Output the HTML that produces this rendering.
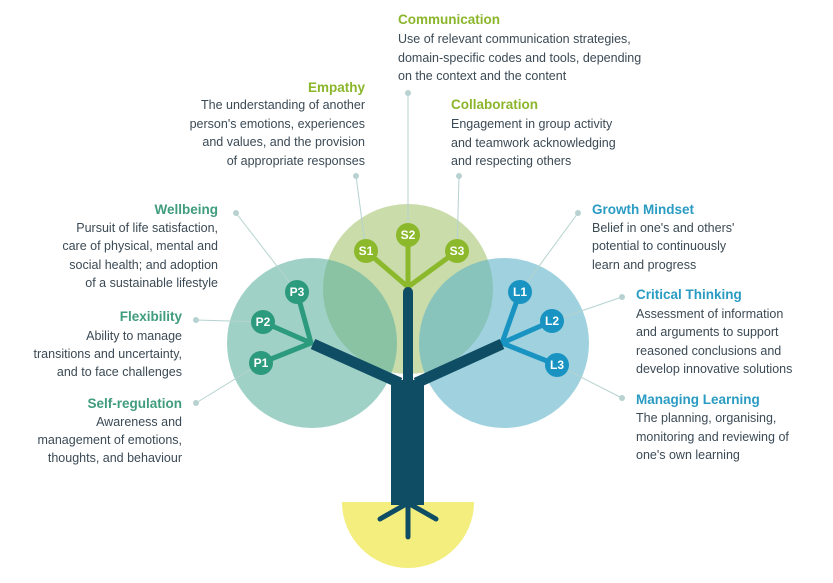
<!DOCTYPE html>
<html><head><meta charset="utf-8"><style>
html,body{margin:0;padding:0;background:#fff;}
svg{display:block}
text{font-family:"Liberation Sans",sans-serif;}
.b{font-size:12.5px;fill:#3b4a55;}
.tp{font-size:13.5px;font-weight:bold;fill:#3f9c7c;}
.ts{font-size:13.5px;font-weight:bold;fill:#8bb62c;}
.tl{font-size:13.5px;font-weight:bold;fill:#2a9bc2;}
.n{font-size:12px;font-weight:bold;fill:#fff;text-anchor:middle;}
</style></head><body>
<svg width="833" height="583" viewBox="0 0 833 583" xmlns="http://www.w3.org/2000/svg">
<!-- yellow half circle -->
<path d="M342 502 L474 502 A66 66 0 0 1 342 502 Z" fill="#f3ee7e"/>
<!-- circles -->
<circle cx="408" cy="289" r="85" fill="#c9dcaa"/>
<circle cx="312" cy="343" r="85" fill="#5fb3a0" fill-opacity="0.6"/>
<circle cx="504" cy="343" r="85" fill="#5fb4c8" fill-opacity="0.6"/>
<!-- leader lines -->
<g stroke="#b5d3d0" stroke-width="1" fill="none">
<line x1="236" y1="213" x2="297" y2="292"/>
<line x1="196" y1="320" x2="263" y2="322"/>
<line x1="196" y1="403" x2="261" y2="363"/>
<line x1="356" y1="176" x2="366" y2="251"/>
<line x1="408" y1="93" x2="408" y2="235"/>
<line x1="459" y1="176" x2="457" y2="251"/>
<line x1="578" y1="213" x2="520" y2="292"/>
<line x1="622" y1="297" x2="552" y2="321"/>
<line x1="622" y1="398" x2="557" y2="365"/>
</g>
<g fill="#b8d2d2">
<circle cx="236" cy="213" r="3"/><circle cx="196" cy="320" r="3"/><circle cx="196" cy="403" r="3"/>
<circle cx="356" cy="176" r="3"/><circle cx="408" cy="93" r="3"/><circle cx="459" cy="176" r="3"/>
<circle cx="578" cy="213" r="3"/><circle cx="622" cy="297" r="3"/><circle cx="622" cy="398" r="3"/>
</g>
<!-- twigs -->
<g stroke="#2c9a7d" stroke-width="5" stroke-linecap="round">
<line x1="311" y1="343" x2="297" y2="292"/><line x1="311" y1="343" x2="263" y2="322"/><line x1="311" y1="343" x2="261" y2="363"/>
</g>
<g stroke="#8cb92c" stroke-width="5" stroke-linecap="round">
<line x1="408" y1="287" x2="366" y2="251"/><line x1="408" y1="287" x2="408" y2="235"/><line x1="408" y1="287" x2="457" y2="251"/>
</g>
<g stroke="#1893c2" stroke-width="5" stroke-linecap="round">
<line x1="502" y1="343" x2="520" y2="292"/><line x1="502" y1="343" x2="552" y2="321"/><line x1="502" y1="343" x2="557" y2="365"/>
</g>
<!-- trunk -->
<g stroke="#0e4d64" stroke-linecap="round" fill="none">
<line x1="313" y1="344" x2="400" y2="383" stroke-width="11" stroke-linecap="butt"/>
<line x1="502" y1="344" x2="416" y2="383" stroke-width="11" stroke-linecap="butt"/>
<line x1="408" y1="292" x2="408" y2="390" stroke-width="10"/>
<line x1="408" y1="490" x2="408" y2="537" stroke-width="5"/>
<line x1="408" y1="503" x2="380" y2="519" stroke-width="5"/>
<line x1="408" y1="503" x2="436" y2="519" stroke-width="5"/>
</g>
<rect x="391" y="380" width="33" height="125" fill="#0e4d64"/>
<!-- nodes -->
<g fill="#2c9a7d"><circle cx="297" cy="292" r="12"/><circle cx="263" cy="322" r="12"/><circle cx="261" cy="363" r="12"/></g>
<g fill="#8cb92c"><circle cx="366" cy="251" r="12"/><circle cx="408" cy="235" r="12"/><circle cx="457" cy="251" r="12"/></g>
<g fill="#1893c2"><circle cx="520" cy="292" r="12"/><circle cx="552" cy="321" r="12"/><circle cx="557" cy="365" r="12"/></g>
<text class="n" x="297" y="296">P3</text><text class="n" x="263" y="326">P2</text><text class="n" x="261" y="367">P1</text>
<text class="n" x="366" y="255">S1</text><text class="n" x="408" y="239">S2</text><text class="n" x="457" y="255">S3</text>
<text class="n" x="520" y="296">L1</text><text class="n" x="552" y="325">L2</text><text class="n" x="557" y="369">L3</text>
<!-- left texts -->
<g text-anchor="end">
<text class="tp" x="218" y="214">Wellbeing</text>
<text class="b" x="218" y="232">Pursuit of life satisfaction,</text>
<text class="b" x="218" y="250">care of physical, mental and</text>
<text class="b" x="218" y="269">social health; and adoption</text>
<text class="b" x="218" y="287">of a sustainable lifestyle</text>
<text class="tp" x="182" y="321">Flexibility</text>
<text class="b" x="182" y="340">Ability to manage</text>
<text class="b" x="182" y="358">transitions and uncertainty,</text>
<text class="b" x="182" y="376">and to face challenges</text>
<text class="tp" x="182" y="408">Self-regulation</text>
<text class="b" x="182" y="426">Awareness and</text>
<text class="b" x="182" y="444">management of emotions,</text>
<text class="b" x="182" y="462">thoughts, and behaviour</text>
<text class="ts" x="365" y="92">Empathy</text>
<text class="b" x="365" y="109">The understanding of another</text>
<text class="b" x="365" y="128">person's emotions, experiences</text>
<text class="b" x="365" y="146">and values, and the provision</text>
<text class="b" x="365" y="165">of appropriate responses</text>
</g>
<!-- top/right texts -->
<text class="ts" x="398" y="24">Communication</text>
<text class="b" x="398" y="43">Use of relevant communication strategies,</text>
<text class="b" x="398" y="62">domain-specific codes and tools, depending</text>
<text class="b" x="398" y="80">on the context and the content</text>
<text class="ts" x="451" y="109">Collaboration</text>
<text class="b" x="451" y="128">Engagement in group activity</text>
<text class="b" x="451" y="147">and teamwork acknowledging</text>
<text class="b" x="451" y="165">and respecting others</text>
<text class="tl" x="592" y="214">Growth Mindset</text>
<text class="b" x="592" y="232">Belief in one's and others'</text>
<text class="b" x="592" y="250">potential to continuously</text>
<text class="b" x="592" y="269">learn and progress</text>
<text class="tl" x="636" y="299">Critical Thinking</text>
<text class="b" x="636" y="318">Assessment of information</text>
<text class="b" x="636" y="336">and arguments to support</text>
<text class="b" x="636" y="355">reasoned conclusions and</text>
<text class="b" x="636" y="373">develop innovative solutions</text>
<text class="tl" x="636" y="404">Managing Learning</text>
<text class="b" x="636" y="422">The planning, organising,</text>
<text class="b" x="636" y="441">monitoring and reviewing of</text>
<text class="b" x="636" y="459">one's own learning</text>
</svg>
</body></html>
